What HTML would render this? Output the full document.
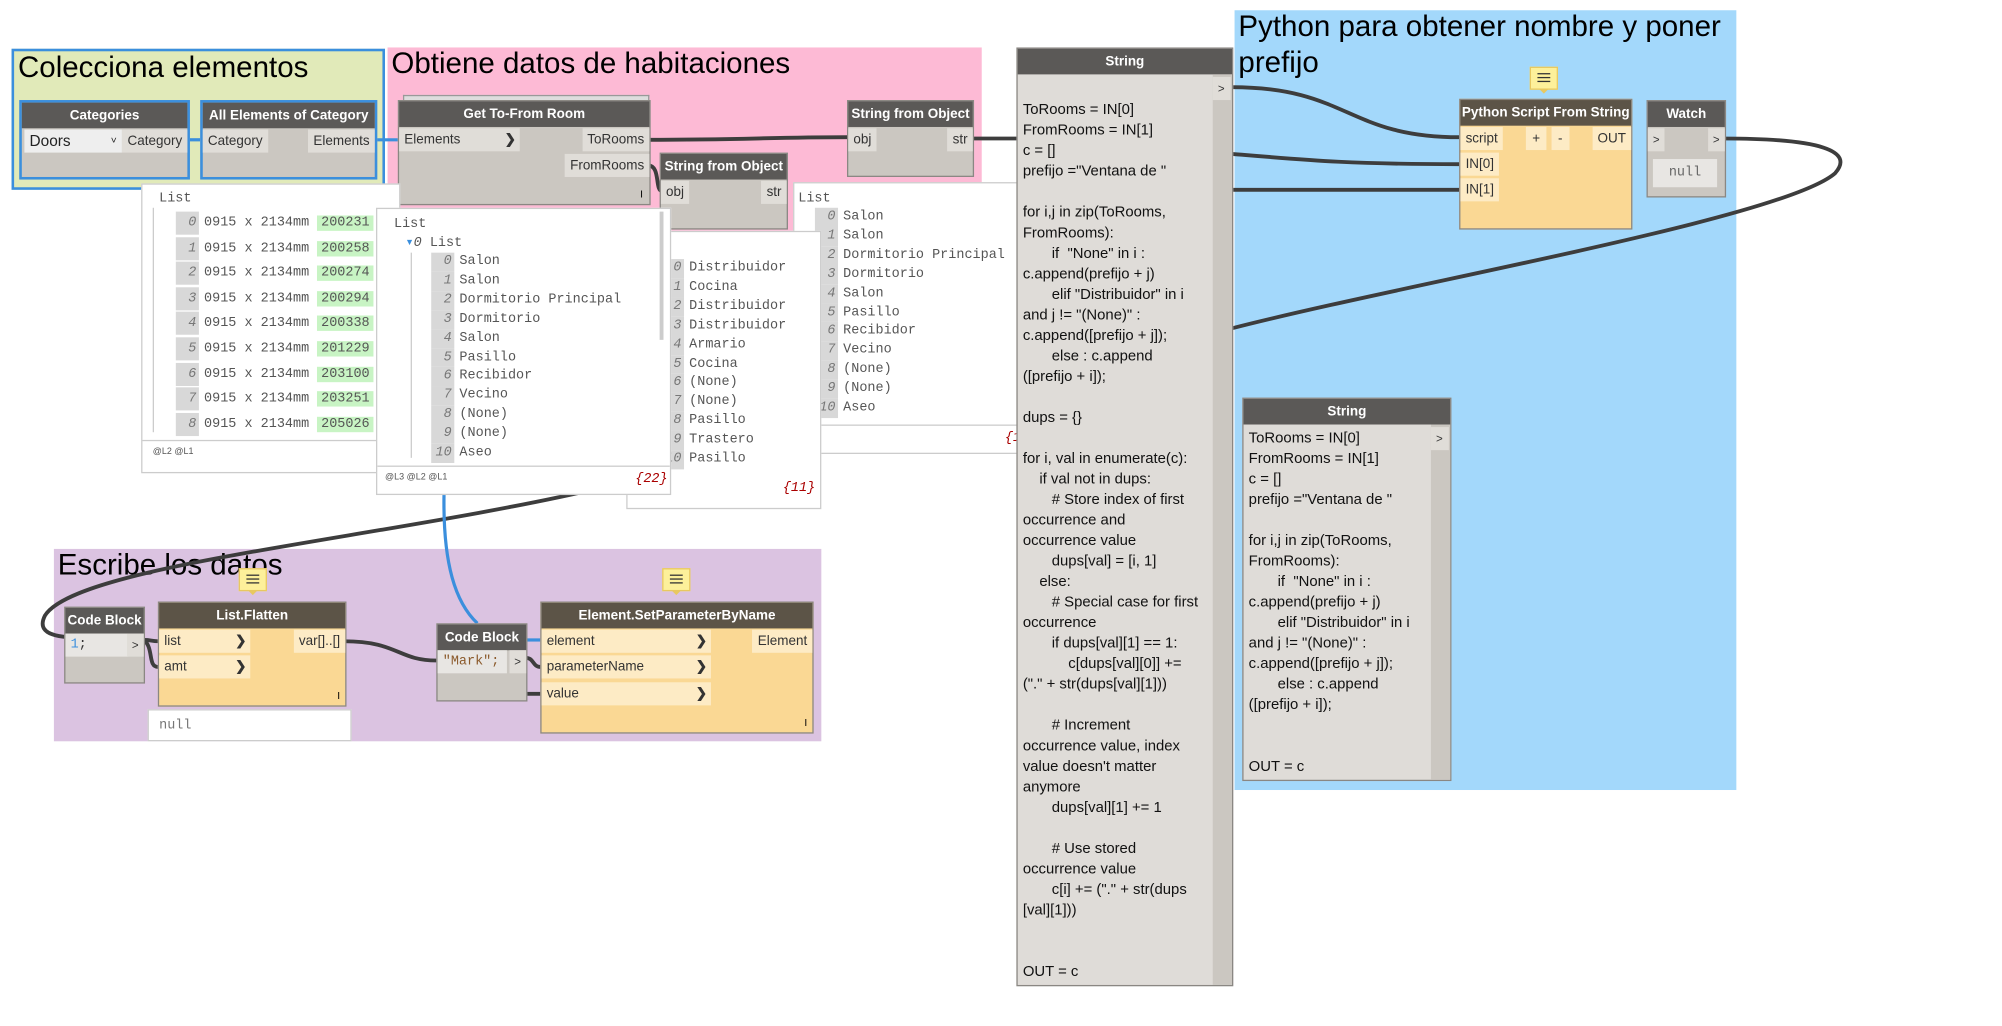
<!DOCTYPE html>
<html><head><meta charset="utf-8"><style>
body{margin:0;background:#fff;overflow:hidden;width:2002px;height:1026px}
#w{position:absolute;left:0;top:0;width:1560px;height:800px;transform:scale(1.28333,1.2825);transform-origin:0 0;font-family:"Liberation Sans",sans-serif}
.a{position:absolute}
.g{position:absolute}
.gt{position:absolute;left:3px;top:-2px;font-size:23px;color:#000;white-space:nowrap;line-height:28px}
.n{position:absolute;background:#cbc7c1;border:1px solid #8a8783}
.h{height:20px;background:#5b5957;color:#fff;font-size:10.5px;font-weight:bold;text-align:center;line-height:20px;white-space:nowrap}
.y{background:#fad894}
.y .h{background:#5c5447}
.p{position:absolute;font-size:10.5px;color:#333;height:18px;line-height:18px;padding:0 4px;background:#e0ddd8;white-space:nowrap}
.py{background:#fdebc5}
.pv{position:absolute;background:#fff;border:1px solid #ccc;font-family:"Liberation Mono",monospace;font-size:10.5px;color:#555;overflow:hidden}
.r{position:absolute;white-space:nowrap}
.i{display:inline-block;background:#d8d8d8;color:#777;font-style:italic;width:16px;text-align:right;padding-right:2px;margin-right:4px}
.code{position:absolute;font-size:11.6px;line-height:16px;color:#111;white-space:pre}
.cm{position:absolute;width:20px;height:16px;background:#fdf09a;border:1px solid #e8c860}
.cm:before{content:"";position:absolute;left:5px;top:4px;width:10px;height:1px;background:#333;box-shadow:0 3px #333,0 6px #333}
.cm:after{content:"";position:absolute;left:6px;top:16px;border:4px solid transparent;border-top-color:#e8c860}
</style></head><body><div id="w">

<!-- groups -->
<div class="g" style="left:9px;top:38px;width:287px;height:106px;background:#e1eab9;border:2px solid #3b8fdd"><div class="gt">Colecciona elementos</div></div>
<div class="g" style="left:302px;top:37px;width:463px;height:143px;background:#fdbad5"><div class="gt">Obtiene datos de habitaciones</div></div>
<div class="g" style="left:962px;top:8px;width:391px;height:608px;background:#a3d8fb"><div class="gt" style="white-space:normal;width:390px">Python para obtener nombre y poner prefijo</div></div>
<div class="g" style="left:42px;top:428px;width:598px;height:150px;background:#dbc3e1"><div class="gt">Escribe los datos</div></div>

<!-- wires -->
<svg class="a" style="left:0;top:0" width="1560" height="800">
<g fill="none" stroke="#3d3d3d" stroke-width="3">
<path d="M505,109 C580,109 600,107 661,107"/>
<path d="M505,129 C515,129 510,149 516,149"/>
<path d="M757,108 L795,108"/>
<path d="M960,68 C1050,68 1050,107 1137,107"/>
<path d="M960,120 C1020,125 1050,128 1137,128"/>
<path d="M960,148 L1137,148"/>
<path d="M1343,108 C1420,108 1445,118 1430,135 C1390,170 1100,220 960,256"/>
<path d="M470,380 C300,420 60,440 35,480 C25,500 60,497 80,497"/>
<path d="M112,499 C118,499 118,500 123,500 M112,499 C120,505 115,520 123,520"/>
<path d="M268,500 C310,500 310,515 340,515"/>
<path d="M410,513 C416,513 415,520 421,520"/>
<path d="M410,541 L421,541"/>
</g>
<g fill="none" stroke="#3b8fdd" stroke-width="2.5">
<path d="M146,109 L156,109"/><path d="M293,109 L310,109"/>
<path d="M346,385 C345,440 355,470 372,486"/>
<path d="M410,499 L421,499"/>
</g>
</svg>

<!-- Collect nodes -->
<div class="n" style="left:15px;top:78px;width:129px;height:58px;border:2px solid #3b8fdd"><div class="h">Categories</div>
<div class="p" style="left:2px;top:21px;width:68px;background:#eee;font-size:12px;color:#222">Doors<span style="position:absolute;right:4px;font-size:8px">˅</span></div>
<div class="p" style="right:0;top:21px">Category</div></div>
<div class="n" style="left:156px;top:78px;width:134px;height:58px;border:2px solid #3b8fdd"><div class="h">All Elements of Category</div>
<div class="p" style="left:0;top:21px">Category</div><div class="p" style="right:0;top:21px">Elements</div></div>

<!-- Get To-From -->
<div class="a" style="left:314px;top:74px;width:190px;height:4px;border:1px solid #999;border-bottom:none;background:#ddd"></div>
<div class="n" style="left:310px;top:78px;width:195px;height:80px"><div class="h">Get To-From Room</div>
<div class="p" style="left:0;top:21px;width:86px">Elements<span style="position:absolute;right:3px;font-weight:bold">❯</span></div>
<div class="p" style="right:0;top:21px">ToRooms</div><div class="p" style="right:0;top:41px">FromRooms</div>
<span class="a" style="right:5px;bottom:3px;font-size:8px">I</span></div>

<div class="n" style="left:660px;top:78px;width:97px;height:58px"><div class="h">String from Object</div>
<div class="p" style="left:0;top:21px">obj</div><div class="p" style="right:0;top:21px">str</div></div>

<!-- previews -->
<div class="pv" style="left:110px;top:143px;width:200px;height:224px">
<div class="r" style="left:13px;top:5px">List</div>
<div class="a" style="left:8px;top:18px;width:1px;height:175px;background:#ccc"></div>
<div class="r" style="left:26px;top:21px;line-height:18px">
<div><span class="i">0</span>0915 x 2134mm <span style="background:#c8f4c4;padding:0 3px">200231</span></div>
<div style="margin-top:1.6px"><span class="i">1</span>0915 x 2134mm <span style="background:#c8f4c4;padding:0 3px">200258</span></div>
<div style="margin-top:1.6px"><span class="i">2</span>0915 x 2134mm <span style="background:#c8f4c4;padding:0 3px">200274</span></div>
<div style="margin-top:1.6px"><span class="i">3</span>0915 x 2134mm <span style="background:#c8f4c4;padding:0 3px">200294</span></div>
<div style="margin-top:1.6px"><span class="i">4</span>0915 x 2134mm <span style="background:#c8f4c4;padding:0 3px">200338</span></div>
<div style="margin-top:1.6px"><span class="i">5</span>0915 x 2134mm <span style="background:#c8f4c4;padding:0 3px">201229</span></div>
<div style="margin-top:1.6px"><span class="i">6</span>0915 x 2134mm <span style="background:#c8f4c4;padding:0 3px">203100</span></div>
<div style="margin-top:1.6px"><span class="i">7</span>0915 x 2134mm <span style="background:#c8f4c4;padding:0 3px">203251</span></div>
<div style="margin-top:1.6px"><span class="i">8</span>0915 x 2134mm <span style="background:#c8f4c4;padding:0 3px">205026</span></div></div>
<div class="a" style="left:0;top:199px;width:200px;border-top:1px solid #ccc"></div>
<div class="r" style="left:8px;top:205px;font-size:7px;font-family:'Liberation Sans'">@L2 @L1</div></div>

<div class="pv" style="left:618px;top:142px;width:175px;height:210px">
<div class="r" style="left:3px;top:6px">List</div>
<div class="r" style="left:16px;top:19px;line-height:14.9px">
<div><span class="i">0</span>Salon</div><div><span class="i">1</span>Salon</div><div><span class="i">2</span>Dormitorio Principal</div><div><span class="i">3</span>Dormitorio</div><div><span class="i">4</span>Salon</div><div><span class="i">5</span>Pasillo</div><div><span class="i">6</span>Recibidor</div><div><span class="i">7</span>Vecino</div><div><span class="i">8</span>(None)</div><div><span class="i">9</span>(None)</div><div><span class="i">10</span>Aseo</div></div>
<div class="a" style="left:0;top:188px;width:175px;border-top:1px solid #ccc"></div>
<div class="r" style="left:164px;top:193px;color:#a00;font-style:italic">{1</div></div>

<div class="n" style="left:514px;top:119px;width:98px;height:58px"><div class="h">String from Object</div>
<div class="p" style="left:0;top:21px">obj</div><div class="p" style="right:0;top:21px">str</div></div>

<div class="pv" style="left:488px;top:180px;width:150px;height:215px">
<div class="r" style="left:25px;top:6px">t</div>
<div class="r" style="left:26px;top:21px;line-height:14.9px">
<div><span class="i">0</span>Distribuidor</div><div><span class="i">1</span>Cocina</div><div><span class="i">2</span>Distribuidor</div><div><span class="i">3</span>Distribuidor</div><div><span class="i">4</span>Armario</div><div><span class="i">5</span>Cocina</div><div><span class="i">6</span>(None)</div><div><span class="i">7</span>(None)</div><div><span class="i">8</span>Pasillo</div><div><span class="i">9</span>Trastero</div><div><span class="i">10</span>Pasillo</div></div>
<div class="r" style="left:121px;top:194px;color:#a00;font-style:italic">{11}</div></div>

<div class="pv" style="left:293px;top:162px;width:228px;height:222px">
<div class="r" style="left:13px;top:6px">List</div>
<div class="r" style="left:22px;top:20px;color:#3b8fdd">▾<span style="color:#555"><i>0</i> List</span></div>
<div class="a" style="left:26px;top:34px;width:1px;height:160px;background:#ccc"></div>
<div class="r" style="left:42px;top:34px;line-height:14.9px">
<div><span class="i">0</span>Salon</div><div><span class="i">1</span>Salon</div><div><span class="i">2</span>Dormitorio Principal</div><div><span class="i">3</span>Dormitorio</div><div><span class="i">4</span>Salon</div><div><span class="i">5</span>Pasillo</div><div><span class="i">6</span>Recibidor</div><div><span class="i">7</span>Vecino</div><div><span class="i">8</span>(None)</div><div><span class="i">9</span>(None)</div><div><span class="i">10</span>Aseo</div></div>
<div class="a" style="left:220px;top:2px;width:3px;height:100px;background:#ccc"></div>
<div class="a" style="left:0;top:200px;width:228px;border-top:1px solid #ccc"></div>
<div class="r" style="left:6px;top:206px;font-size:7px;font-family:'Liberation Sans'">@L3 @L2 @L1</div>
<div class="r" style="left:201px;top:205px;color:#a00;font-style:italic">{22}</div></div>

<!-- big String -->
<div class="n" style="left:792px;top:37px;width:167px;height:730px;background:#dfdcd8"><div class="h">String</div>
<div class="a" style="left:152px;top:20px;width:15px;height:710px;background:#cbc7c1"></div>
<div class="p" style="left:152px;top:22px;width:6px;background:#e0ddd8;font-size:9px">&gt;</div>
<div class="code" style="left:4px;top:40px">ToRooms = IN[0]
FromRooms = IN[1]
c = []
prefijo ="Ventana de "

for i,j in zip(ToRooms,
FromRooms):
       if  "None" in i :
c.append(prefijo + j)
       elif "Distribuidor" in i
and j != "(None)" :
c.append([prefijo + j]);
       else : c.append
([prefijo + i]);

dups = {}

for i, val in enumerate(c):
    if val not in dups:
       # Store index of first
occurrence and
occurrence value
       dups[val] = [i, 1]
    else:
       # Special case for first
occurrence
       if dups[val][1] == 1:
           c[dups[val][0]] +=
("." + str(dups[val][1]))

       # Increment
occurrence value, index
value doesn't matter
anymore
       dups[val][1] += 1

       # Use stored
occurrence value
       c[i] += ("." + str(dups
[val][1]))


OUT = c</div></div>

<!-- Python -->
<div class="cm" style="left:1192px;top:52px"></div>
<div class="n y" style="left:1137px;top:77px;width:133px;height:100px"><div class="h">Python Script From String</div>
<div class="p py" style="left:0;top:21px">script</div><div class="p py" style="left:0;top:41px">IN[0]</div><div class="p py" style="left:0;top:61px">IN[1]</div>
<div class="p py" style="left:51px;top:21px;padding:0 5px">+</div><div class="p py" style="left:71px;top:21px;padding:0 5px">-</div>
<div class="p py" style="right:0;top:21px">OUT</div></div>
<div class="n" style="left:1283px;top:78px;width:60px;height:74px"><div class="h">Watch</div>
<div class="p" style="left:0;top:21px;font-size:9px">&gt;</div><div class="p" style="right:0;top:21px;font-size:9px">&gt;</div>
<div class="a" style="left:4px;top:45px;width:50px;height:22px;background:#e8e6e3;font-family:'Liberation Mono';font-size:10.5px;color:#666;text-align:center;line-height:22px">null</div></div>

<div class="n" style="left:968px;top:310px;width:161px;height:297px;background:#dfdcd8"><div class="h">String</div>
<div class="a" style="left:146px;top:20px;width:15px;height:277px;background:#cbc7c1"></div>
<div class="p" style="left:146px;top:22px;width:6px;font-size:9px">&gt;</div>
<div class="code" style="left:4px;top:23px">ToRooms = IN[0]
FromRooms = IN[1]
c = []
prefijo ="Ventana de "

for i,j in zip(ToRooms,
FromRooms):
       if  "None" in i :
c.append(prefijo + j)
       elif "Distribuidor" in i
and j != "(None)" :
c.append([prefijo + j]);
       else : c.append
([prefijo + i]);


OUT = c</div></div>

<!-- Escribe -->
<div class="cm" style="left:186px;top:443px"></div>
<div class="cm" style="left:516px;top:443px"></div>
<div class="n" style="left:50px;top:473px;width:61px;height:58px"><div class="h">Code Block</div>
<div class="p" style="left:0;top:20px;width:41px;font-family:'Liberation Mono';background:#e8e6e3;color:#333"><span style="color:#3b8fdd">1</span>;</div>
<div class="p" style="right:0;top:20px;font-size:9px">&gt;</div></div>
<div class="n y" style="left:123px;top:469px;width:145px;height:80px"><div class="h">List.Flatten</div>
<div class="p py" style="left:0;top:21px;width:63px">list<span style="position:absolute;right:3px;font-weight:bold">❯</span></div>
<div class="p py" style="left:0;top:41px;width:63px">amt<span style="position:absolute;right:3px;font-weight:bold">❯</span></div>
<div class="p py" style="right:0;top:21px">var[]..[]</div><span class="a" style="right:4px;bottom:3px;font-size:8px">I</span></div>
<div class="a" style="left:115px;top:553px;width:159px;height:25px;background:#fff;border:1px solid #ccc;font-family:'Liberation Mono';font-size:10.5px;color:#777;line-height:25px;padding-left:8px;box-sizing:border-box">null</div>
<div class="n" style="left:340px;top:486px;width:69px;height:59px"><div class="h">Code Block</div>
<div class="p" style="left:0;top:20px;width:46px;font-family:'Liberation Mono';background:#e8e6e3;color:#8b5a2b">"Mark";</div>
<div class="p" style="right:0;top:20px;font-size:9px">&gt;</div></div>
<div class="n y" style="left:421px;top:469px;width:211px;height:101px"><div class="h">Element.SetParameterByName</div>
<div class="p py" style="left:0;top:21px;width:124px">element<span style="position:absolute;right:3px;font-weight:bold">❯</span></div>
<div class="p py" style="left:0;top:41px;width:124px">parameterName<span style="position:absolute;right:3px;font-weight:bold">❯</span></div>
<div class="p py" style="left:0;top:62px;width:124px">value<span style="position:absolute;right:3px;font-weight:bold">❯</span></div>
<div class="p py" style="right:0;top:21px">Element</div><span class="a" style="right:4px;bottom:3px;font-size:8px">I</span></div>

</div></body></html>
